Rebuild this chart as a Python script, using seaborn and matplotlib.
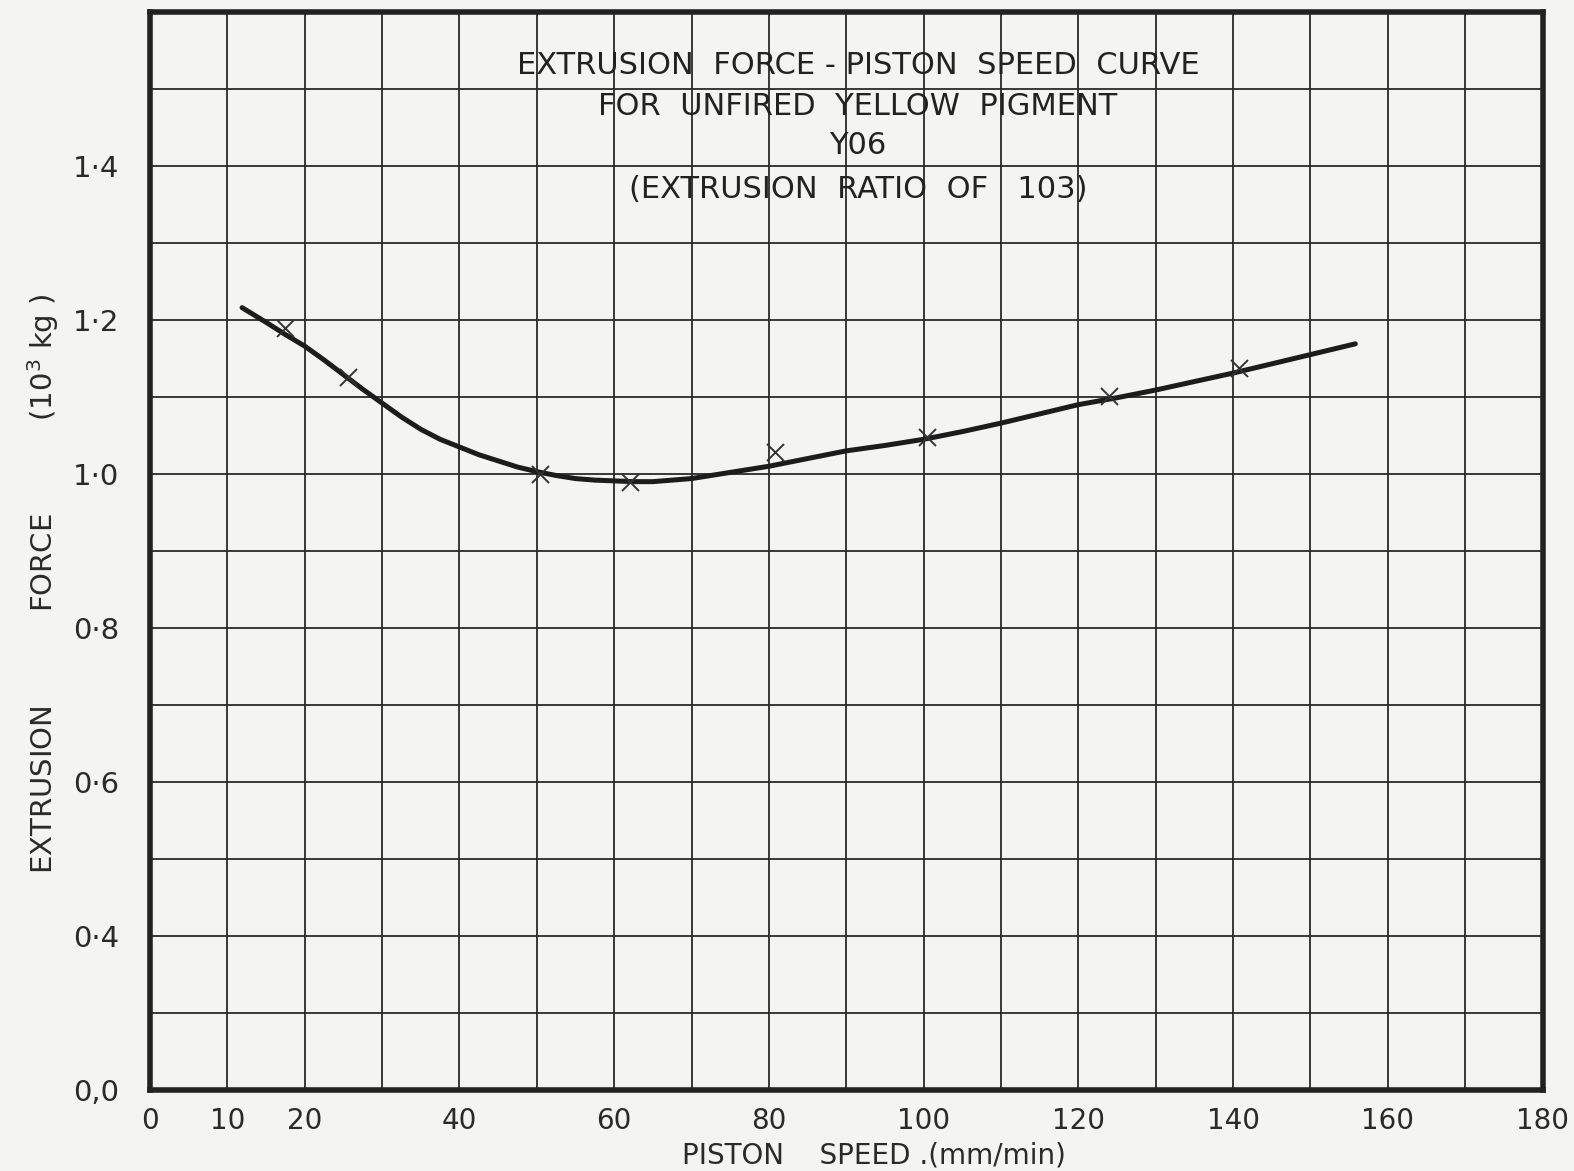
import numpy as np
import pandas as pd
import seaborn as sns
import matplotlib
matplotlib.use("Agg")
import matplotlib.pyplot as plt

# Smooth curve (piston speed mm/min, force 10^3 kg)
curve_x = [11.9, 15, 17.5, 20, 22.5, 25, 27.5, 30, 32.5, 35, 37.5, 40, 42.5, 45,
           47.5, 50, 52.5, 55, 57.5, 60, 62.5, 65, 67.5, 70, 72.5, 75, 77.5, 80,
           85, 90, 95, 100, 105, 110, 115, 120, 125, 130, 135, 140, 145, 150, 155.8]
curve_y = [1.216, 1.197, 1.181, 1.166, 1.148, 1.129, 1.110, 1.092, 1.074, 1.058,
           1.045, 1.035, 1.025, 1.017, 1.009, 1.003, 0.998, 0.994, 0.992, 0.991,
           0.990, 0.990, 0.992, 0.994, 0.998, 1.002, 1.006, 1.010, 1.020, 1.030,
           1.037, 1.045, 1.055, 1.066, 1.078, 1.090, 1.099, 1.109, 1.120, 1.131,
           1.143, 1.155, 1.169]

# Measured points (x marks)
mark_x = [17.4, 25.6, 50.4, 62.1, 80.8, 100.4, 124.0, 140.8]
mark_y = [1.190, 1.126, 1.000, 0.990, 1.029, 1.048, 1.101, 1.138]

# Axis labelling (y axis has a suppressed zero: bottom line is labelled 0,0)
xtick_vals = list(range(0, 190, 10))
xtick_text = ["0", "10", "20", "", "40", "", "60", "", "80", "", "100", "",
              "120", "", "140", "", "160", "", "180"]
ytick_vals = [0.2, 0.3, 0.4, 0.5, 0.6, 0.7, 0.8, 0.9, 1.0, 1.1, 1.2, 1.3, 1.4, 1.5, 1.6]
ytick_text = ["0,0", "", "0·4", "", "0·6", "", "0·8", "", "1·0", "", "1·2", "",
              "1·4", "", ""]

title_lines = ["EXTRUSION  FORCE - PISTON  SPEED  CURVE",
               "FOR  UNFIRED  YELLOW  PIGMENT",
               "Y06",
               "(EXTRUSION  RATIO  OF   103)"]

paper = "#f4f4f2"
ink = "#1c1c1c"

sns.set_style("white")
plt.rcParams["font.family"] = ["DejaVu Sans"]

fig = plt.figure(figsize=(15.74, 11.71), dpi=100, facecolor=paper)
ax = fig.add_axes([0.0953, 0.0692, 0.8847, 0.9206])
ax.set_facecolor(paper)

curve = pd.DataFrame({"speed": curve_x, "force": curve_y})
marks = pd.DataFrame({"speed": mark_x, "force": mark_y})

sns.lineplot(data=curve, x="speed", y="force", color=ink, linewidth=3.6,
             solid_capstyle="round", solid_joinstyle="round", ax=ax, zorder=3)
sns.scatterplot(data=marks, x="speed", y="force", marker="x", s=150,
                color="#333333", linewidth=1.4, ax=ax, zorder=4)

ax.set_xlim(0, 180)
ax.set_ylim(0.2, 1.6)
ax.set_xticks(xtick_vals)
ax.set_xticklabels(xtick_text)
ax.set_yticks(ytick_vals)
ax.set_yticklabels(ytick_text)
ax.tick_params(axis="x", length=0, labelsize=20, colors="#2a2a2a", pad=12)
ax.tick_params(axis="y", length=0, labelsize=21, colors="#2a2a2a", pad=22)

ax.grid(True, color="#2a2a2a", linewidth=1.3)
ax.set_axisbelow(True)
for side in ax.spines.values():
    side.set_visible(True)
    side.set_color("#222222")
    side.set_linewidth(4)

ax.set_xlabel("PISTON    SPEED .(mm/min)", fontsize=20, color="#2a2a2a")
ax.set_ylabel("EXTRUSION          FORCE          (10$^3$ kg )", fontsize=21,
              color="#2a2a2a")
ax.yaxis.set_label_coords(-0.064, 0.47)
ax.xaxis.set_label_coords(0.52, -0.048)

title_y = [1.531, 1.477, 1.427, 1.369]
for line, ty in zip(title_lines, title_y):
    ax.text(91.5, ty, line, ha="center", va="center", fontsize=22,
            color="#222222", zorder=5)

fig.savefig("out.png", dpi=100, facecolor=paper)
